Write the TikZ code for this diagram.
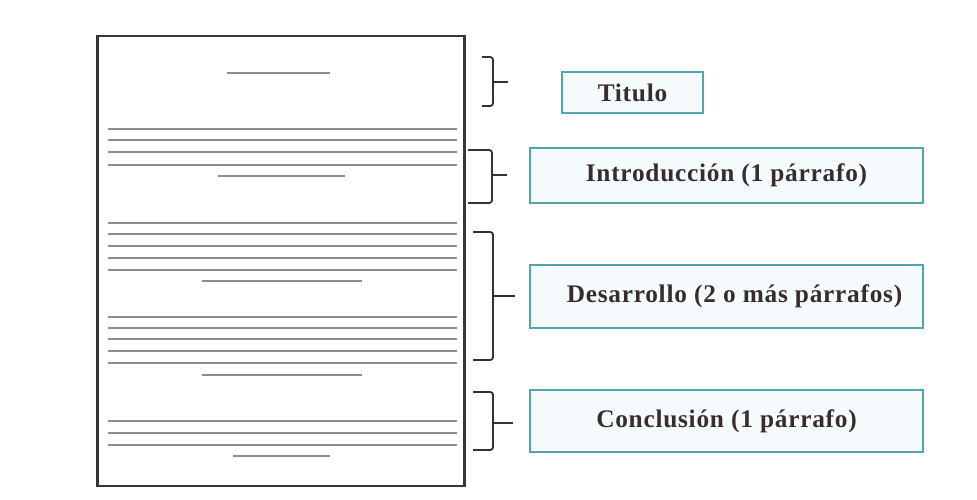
\documentclass[tikz,border=0pt]{standalone}
\usepackage{fontspec}
\setmainfont{Liberation Serif}
\usetikzlibrary{positioning}
\definecolor{pageline}{RGB}{140,140,140}
\definecolor{pageframe}{RGB}{55,55,55}
\definecolor{boxframe}{RGB}{80,165,175}
\definecolor{boxfill}{RGB}{246,252,253}
\definecolor{boxtext}{RGB}{55,45,45}
\begin{document}
\begin{tikzpicture}[
    x=0.025cm, y=-0.025cm,
    page/.style={rectangle, draw=pageframe, line width=1.8pt, fill=white, minimum width=9.175cm, minimum height=11.25cm, inner sep=0pt},
    greek/.style={draw=pageline, line width=0.8pt},
    partbox/.style={rectangle, draw=boxframe, fill=boxfill, line width=1.3pt, minimum width=9.825cm, align=center, text=boxtext, font=\fontsize{18}{21}\selectfont\bfseries\addfontfeatures{LetterSpace=3}, inner sep=2pt},
    brace/.style={draw=black!80, line width=1.3pt, rounded corners=2pt}
]
    \useasboundingbox (0,0) rectangle (977,499);

    % the page
    \node[page] (sheet) at (281,261) {};
    % title line
    \draw[greek] (227,73) -- (330,73);
    % introduction
    \foreach \y in {129,140,152,165} \draw[greek] (108,\y) -- (457,\y);
    \draw[greek] (218,176) -- (345,176);
    % body, two paragraphs
    \foreach \y in {223,234,246,258,270} \draw[greek] (108,\y) -- (457,\y);
    \draw[greek] (202,281) -- (362,281);
    \foreach \y in {317,328,339,351,363} \draw[greek] (108,\y) -- (457,\y);
    \draw[greek] (202,375) -- (362,375);
    % conclusion
    \foreach \y in {421,433,445} \draw[greek] (108,\y) -- (457,\y);
    \draw[greek] (233,456) -- (330,456);

    % labels
    \node[partbox, minimum width=3.525cm, minimum height=1.025cm] (titulo) at (632.5,92.5) {Titulo};
    \node[partbox, minimum height=1.375cm] (intro) at (726.5,175.5) {Introducción (1 párrafo)};
    \node[partbox, minimum height=1.575cm] (desarrollo) at (726.5,296.5) {\hspace*{0.4cm}Desarrollo (2 o más párrafos)};
    \node[partbox, minimum height=1.55cm] (conclusion) at (726.5,421) {Conclusión (1 párrafo)};

    % braces
    \coordinate (b1) at (493,82);
    \draw[brace] (482,57) -- (493,57) -- (493,106) -- (482,106);
    \draw[brace] (b1) -- ++(15,0);
    \coordinate (b2) at (492,175);
    \draw[brace] (468,150) -- (492,150) -- (492,203) -- (468,203);
    \draw[brace] (b2) -- ++(15,0);
    \coordinate (b3) at (493,296);
    \draw[brace] (473,232) -- (493,232) -- (493,360) -- (473,360);
    \draw[brace] (b3) -- ++(22,0);
    \coordinate (b4) at (493,423);
    \draw[brace] (473,392) -- (493,392) -- (493,450) -- (473,450);
    \draw[brace] (b4) -- ++(20,0);
\end{tikzpicture}
\end{document}
